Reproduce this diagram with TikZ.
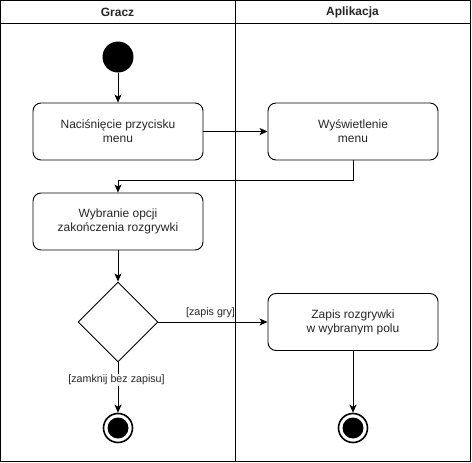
\documentclass[tikz,border=0pt]{standalone}
\usepackage{fontspec}
\setmainfont{Liberation Sans}
\usetikzlibrary{shapes.geometric,arrows.meta}
\begin{document}
\begin{tikzpicture}[x=1pt,y=-1pt,
  every node/.style={font=\fontsize{12}{14}\selectfont, text=black!85},
  lane/.style={draw=black, line width=1pt},
  actbox/.style={draw=black, line width=0.9pt, rounded corners=8pt, minimum width=170pt, minimum height=57pt, align=center, inner sep=0pt},
  decis/.style={draw=black, line width=0.9pt, diamond, minimum width=80pt, minimum height=80pt, inner sep=0pt},
  startst/.style={circle, fill=black, minimum size=31pt, inner sep=0pt},
  endst/.style={circle, draw=black, line width=1.6pt, fill=white, minimum size=29pt, inner sep=0pt, path picture={\fill[black] (path picture bounding box.center) circle (10.5pt);}},
  flow/.style={draw=black, line width=0.9pt, -{Stealth[length=8pt,width=7pt,inset=2pt]}},
  guard/.style={font=\fontsize{10.7}{12.5}\selectfont, inner sep=1pt}
]
\useasboundingbox (0,0) rectangle (472,463);
% swimlanes
\draw[lane] (0,0) rectangle (235,23);
\draw[lane] (235,0) rectangle (470,23);
\draw[lane] (0,23) rectangle (235,461);
\draw[lane] (235,23) rectangle (470,461);
\node[font=\bfseries\fontsize{12}{14}\selectfont] (h1) at (117.5,12) {Gracz};
\node[font=\bfseries\fontsize{12}{14}\selectfont] (h2) at (352.5,12) {Aplikacja};
% nodes
\node[startst] (start) at (118,57) {};
\node[actbox] (a1) at (118,131.5) {Naciśnięcie przycisku\\menu};
\node[actbox] (a2) at (353,131.5) {Wyświetlenie\\menu};
\node[actbox] (a3) at (118,221.5) {Wybranie opcji\\zakończenia rozgrywki};
\node[decis] (d) at (118,322) {};
\node[actbox] (a4) at (353,322) {Zapis rozgrywki\\w wybranym polu};
\node[endst] (e1) at (118,428) {};
\node[endst] (e2) at (353,428) {};
\coordinate (c1) at (353,180);
\coordinate (c2) at (118,180);
% flows
\draw[flow] (start) -- (a1);
\draw[flow] (a1) -- (a2);
\draw[flow] (a2.south) -- (c1) -- (c2) -- (a3.north);
\draw[flow] (a3) -- (d);
\draw[flow] (d.east) -- (a4.west);
\node[guard] (g1) at (210.5,313) {[zapis gry]};
\draw[flow] (d.south) -- (e1);
\node[guard, fill=white] (g2) at (116.5,380) {[zamknij bez zapisu]};
\draw[flow] (a4) -- (e2);
\end{tikzpicture}
\end{document}
